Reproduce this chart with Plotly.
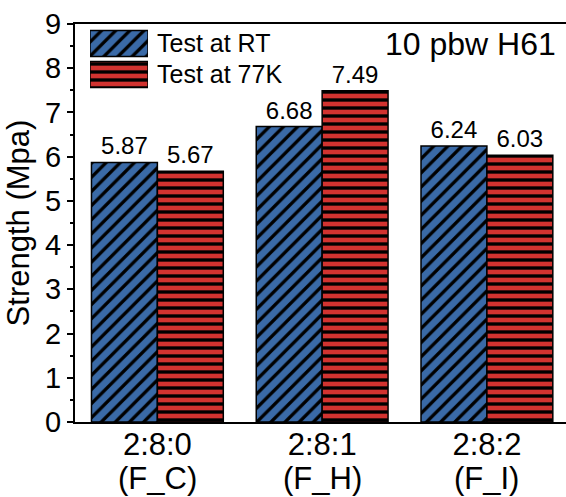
import plotly.graph_objects as go

# ---- data ----
ratios = ["2:8:0", "2:8:1", "2:8:2"]
codes = ["F_C", "F_H", "F_I"]
series_names = ["Test at RT", "Test at 77K"]
strength_rt = [5.87, 6.68, 6.24]
strength_77k = [5.67, 7.49, 6.03]
y_ticks = [0, 1, 2, 3, 4, 5, 6, 7, 8, 9]

FONT = "Arial, Liberation Sans, sans-serif"
BLUE = "#3A6AA7"
RED = "#D23330"
colors = [BLUE, RED]
shapes = ["/", "-"]
sizes = [10, 8]
solid = [0.33, 0.42]

fig = go.Figure()

for name, vals, col, shp, sz, so in zip(series_names, [strength_rt, strength_77k], colors, shapes, sizes, solid):
    fig.add_trace(go.Bar(
        x=ratios, y=vals, name=name,
        marker=dict(color=col, line=dict(color="black", width=1.5),
                    pattern=dict(shape=shp, fgcolor="black", bgcolor=col,
                                 size=sz, solidity=so, fillmode="replace")),
        texttemplate="%{y:.2f}", textposition="outside",
        textfont=dict(family=FONT, size=24, color="black"),
        cliponaxis=False, showlegend=False,
    ))

# legend swatches drawn via an inset axis
for name, col, shp, sz, so in zip(series_names, colors, shapes, sizes, solid):
    fig.add_trace(go.Bar(
        y=[name], x=[1], orientation="h", width=0.84, offsetgroup="legend",
        xaxis="x2", yaxis="y2", showlegend=False, hoverinfo="skip",
        marker=dict(color=col, line=dict(color="black", width=1.5),
                    pattern=dict(shape=shp, fgcolor="black", bgcolor=col,
                                 size=sz, solidity=so, fillmode="replace")),
    ))

# second line of category labels
annotations = [dict(text=f"({c})", x=r, xref="x", y=-0.143, yref="paper",
                    xanchor="center", yanchor="middle", showarrow=False,
                    font=dict(family=FONT, size=31, color="black"))
               for r, c in zip(ratios, codes)]
annotations.append(dict(text="10 pbw H61", xref="paper", yref="paper",
                        x=0.984, y=0.95, xanchor="right", yanchor="middle",
                        showarrow=False, font=dict(family=FONT, size=32, color="black")))

fig.update_layout(
    width=566, height=497,
    margin=dict(l=75, r=0, t=24, b=75, autoexpand=False),
    paper_bgcolor="white", plot_bgcolor="white",
    barmode="group", bargap=0.2, bargroupgap=0,
    font=dict(family=FONT, color="black"),
    xaxis=dict(
        type="category", range=[-0.5, 2.48], automargin=False,
        showline=True, linecolor="black", linewidth=2, mirror=True,
        ticks="", showgrid=False, zeroline=False, ticklabelstandoff=-6,
        tickfont=dict(family=FONT, size=31, color="black"),
    ),
    yaxis=dict(
        range=[0, 9], tickvals=y_ticks, automargin=False,
        showline=True, linecolor="black", linewidth=2, mirror=False,
        ticks="outside", ticklen=6, tickwidth=1.5, tickcolor="black",
        minor=dict(dtick=0.5, ticks="outside", ticklen=3, tickwidth=1.5, tickcolor="black"),
        showgrid=False, zeroline=False,
        tickfont=dict(family=FONT, size=29, color="black"),
        title=dict(text="Strength (Mpa)", font=dict(family=FONT, size=31, color="black"), standoff=6),
    ),
    xaxis2=dict(domain=[0.0305, 0.1487], anchor="y2", range=[0, 1],
                visible=False, fixedrange=True),
    yaxis2=dict(domain=[0.834, 0.99], anchor="x2", type="category", automargin=False,
                categoryarray=list(reversed(series_names)), categoryorder="array",
                tickmode="array", tickvals=series_names, ticktext=series_names,
                range=[-0.5, 1.5],
                side="right", showline=False, showgrid=False, zeroline=False, ticks="",
                ticklabelstandoff=8,
                tickfont=dict(family=FONT, size=25, color="black")),
    annotations=annotations,
)

fig.write_html("out.html", config={"displayModeBar": False},
               post_script="document.body.style.margin='0';document.body.style.overflow='hidden';")
